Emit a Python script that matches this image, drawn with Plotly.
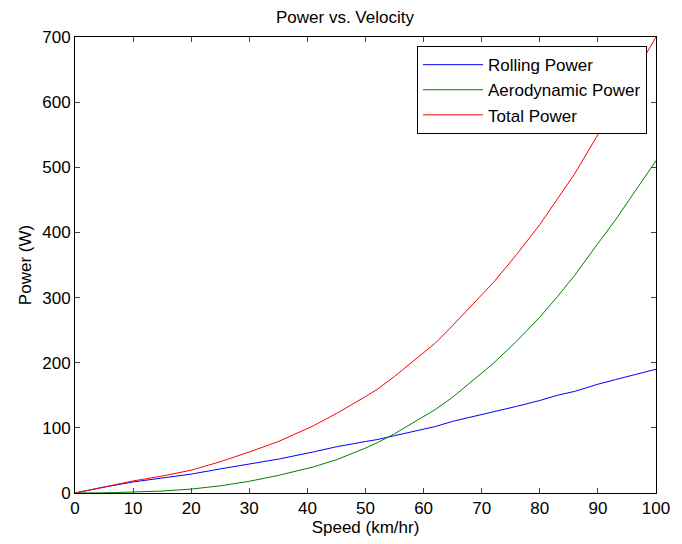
import plotly.graph_objects as go

speed = [0, 3, 5, 10, 15, 20, 25, 30, 35, 41, 45, 50, 52, 55, 60, 62, 65, 69, 72, 76, 80, 83, 86, 90, 93, 96, 100]
rolling_power = [0, 6, 9, 17, 23, 29, 37, 45, 52, 63, 71, 79, 82, 88, 98, 102, 110, 118, 124, 133, 142, 150, 156, 167, 174, 181, 190]
aero_power = [0, 0.05, 0.2, 1.5, 3, 6, 11, 18, 27, 40, 51, 69, 77, 91, 117, 128, 147, 176, 199, 233, 270, 301, 334, 383, 419, 458, 510]
total_power = [0, 6.05, 9.2, 18.5, 26, 35, 48, 63, 79, 103, 122, 148, 159, 179, 215, 230, 257, 294, 323, 366, 412, 451, 490, 550, 593, 639, 700]

x_ticks = [0, 10, 20, 30, 40, 50, 60, 70, 80, 90, 100]
y_ticks = [0, 100, 200, 300, 400, 500, 600, 700]

fig = go.Figure()
fig.add_trace(go.Scatter(x=speed, y=rolling_power, mode="lines", name="Rolling Power",
                         line=dict(color="#0000ff", width=1)))
fig.add_trace(go.Scatter(x=speed, y=aero_power, mode="lines", name="Aerodynamic Power",
                         line=dict(color="#008000", width=1)))
fig.add_trace(go.Scatter(x=speed, y=total_power, mode="lines", name="Total Power",
                         line=dict(color="#ff0000", width=1)))

fam = "Liberation Sans, Arial, sans-serif"
font = dict(family=fam, size=17, color="black")

# page body has an 8px margin, so the figure is sized/margined to compensate
fig.update_layout(
    width=674, height=536,
    margin=dict(l=67, r=25, t=29, b=49),
    paper_bgcolor="white", plot_bgcolor="white",
    font=font,
    title=dict(text="Power vs. Velocity", x=0.5, xanchor="center", y=0.983, yanchor="middle",
               font=dict(size=17, family=fam, color="black")),
    showlegend=True,
    legend=dict(x=0.9845, xanchor="right", y=0.98, yanchor="top",
                bordercolor="black", borderwidth=1, bgcolor="white",
                font=dict(size=17, family=fam, color="black"),
                tracegroupgap=0, itemwidth=60),
    xaxis=dict(range=[0, 100], tickvals=x_ticks, ticks="inside", ticklen=5,
               showline=True, linecolor="black", linewidth=1, mirror="ticks",
               showgrid=False, zeroline=False,
               title=dict(text="Speed (km/hr)", standoff=2, font=dict(size=17)),
               tickfont=dict(size=17)),
    yaxis=dict(range=[0, 700], tickvals=y_ticks, ticks="inside", ticklen=5,
               showline=True, linecolor="black", linewidth=1, mirror="ticks",
               showgrid=False, zeroline=False,
               title=dict(text="Power (W)", standoff=6, font=dict(size=17)),
               tickfont=dict(size=17)),
)

fig.write_html("out.html")
